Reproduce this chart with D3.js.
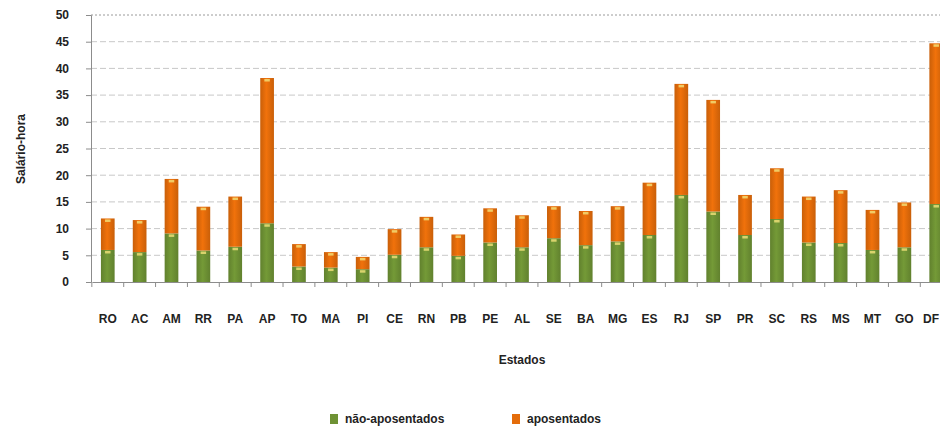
<!DOCTYPE html>
<html>
<head>
<meta charset="utf-8">
<script src="https://cdn.jsdelivr.net/npm/d3@7"></script>
<style>
  html, body { margin: 0; padding: 0; background: #ffffff; }
  svg { display: block; }
  text { font-family: "Liberation Sans", Arial, sans-serif; }
</style>
</head>
<body>
<svg id="chart" width="940" height="441"></svg>
<script>
// ---- data ----
const categories = ["RO","AC","AM","RR","PA","AP","TO","MA","PI","CE","RN","PB","PE","AL","SE","BA","MG","ES","RJ","SP","PR","SC","RS","MS","MT","GO","DF"];
const naoAposentados = [6.0,5.6,9.1,5.9,6.6,11.0,2.9,2.7,2.4,5.1,6.5,4.9,7.4,6.5,8.2,6.9,7.6,8.8,16.3,13.2,8.8,11.8,7.4,7.3,6.0,6.5,14.6];
const totais = [11.9,11.6,19.3,14.1,16.0,38.2,7.1,5.6,4.7,9.9,12.2,8.9,13.8,12.5,14.2,13.3,14.2,18.6,37.1,34.1,16.3,21.3,16.0,17.2,13.5,14.9,44.7];
const aposentados = totais.map((t, i) => +(t - naoAposentados[i]).toFixed(1));
const seriesNames = ["não-aposentados", "aposentados"];
const seriesColors = ["#6e9234", "#e46c0a"];
const yTicks = [0,5,10,15,20,25,30,35,40,45,50];
const yTitle = "Salário-hora";
const xTitle = "Estados";

// ---- layout ----
const W = 940;
const svg = d3.select("#chart");
const x = d3.scaleBand().domain(categories).range([92, 952]).paddingInner(0.57).paddingOuter(0.28);
const y = d3.scaleLinear().domain([0, 50]).range([282, 15]);

const rows = categories.map((c, i) => ({ cat: c, "não-aposentados": naoAposentados[i], "aposentados": aposentados[i] }));
const stack = d3.stack().keys(seriesNames)(rows);

// gradients for bars
const defs = svg.append("defs");
seriesColors.forEach((col, k) => {
  const g = defs.append("linearGradient").attr("id", "grad" + k).attr("x1", "0").attr("x2", "1").attr("y1", "0").attr("y2", "0");
  const c = d3.color(col);
  g.append("stop").attr("offset", "0%").attr("stop-color", c.darker(0.35));
  g.append("stop").attr("offset", "45%").attr("stop-color", c.brighter(0.15));
  g.append("stop").attr("offset", "100%").attr("stop-color", c.darker(0.35));
});

// gridlines
svg.append("g")
  .selectAll("line")
  .data(yTicks.filter(t => t > 0))
  .join("line")
  .attr("x1", 91).attr("x2", W)
  .attr("y1", d => y(d)).attr("y2", d => y(d))
  .attr("stroke", d => d === 50 ? "#9a9a9a" : "#c8c8c8")
  .attr("stroke-width", 1)
  .attr("stroke-dasharray", d => d === 50 ? "2,2" : "6,3");

// bars
const layer = svg.append("g").selectAll("g")
  .data(stack)
  .join("g")
  .attr("fill", (d, k) => `url(#grad${k})`);

layer.selectAll("rect.bar")
  .data(d => d)
  .join("rect")
  .attr("class", "bar")
  .attr("x", d => x(d.data.cat))
  .attr("width", x.bandwidth())
  .attr("y", d => y(d[1]))
  .attr("height", d => y(d[0]) - y(d[1]));

// small highlight at the top of each segment
layer.selectAll("rect.hl")
  .data(d => d)
  .join("rect")
  .attr("class", "hl")
  .attr("x", d => x(d.data.cat) + x.bandwidth() * 0.3)
  .attr("width", x.bandwidth() * 0.4)
  .attr("y", d => y(d[1]) + 1)
  .attr("height", 2.5)
  .attr("fill", "#f2e27a")
  .attr("opacity", 0.8);

// y axis
const yAxis = d3.axisLeft(y).tickValues(yTicks).tickSize(5).tickPadding(17).tickFormat(d3.format("d"));
const gy = svg.append("g").attr("transform", "translate(91,0)").call(yAxis);
gy.select(".domain").attr("stroke", "#8c8c8c");
gy.selectAll(".tick line").attr("stroke", "#8c8c8c");
gy.selectAll(".tick text").attr("font-size", 12).attr("font-weight", "bold").attr("fill", "#222");

// x axis
const xAxis = d3.axisBottom(x).tickSize(0).tickPadding(32);
const gx = svg.append("g").attr("transform", "translate(0,282)").call(xAxis);
gx.select(".domain").attr("stroke", "#8c8c8c");
gx.selectAll(".tick text").attr("font-size", 12).attr("font-weight", "bold").attr("fill", "#222");
// keep the last label inside the picture
gx.selectAll(".tick").each(function(d) {
  const cx = x(d) + x.bandwidth() / 2;
  if (cx + 10 > W) {
    d3.select(this).select("text").attr("text-anchor", "end").attr("x", W - 1 - cx);
  }
});
// category separator ticks
const step = x.step();
gx.append("g").selectAll("line")
  .data(categories)
  .join("line")
  .attr("x1", d => x(d) + x.bandwidth() / 2 - step / 2)
  .attr("x2", d => x(d) + x.bandwidth() / 2 - step / 2)
  .attr("y1", 0).attr("y2", 5)
  .attr("stroke", "#8c8c8c");

// axis titles
svg.append("text")
  .attr("transform", "translate(25,149) rotate(-90)")
  .attr("text-anchor", "middle")
  .attr("font-size", 12).attr("font-weight", "bold").attr("fill", "#222")
  .text(yTitle);
svg.append("text")
  .attr("x", 522).attr("y", 364)
  .attr("text-anchor", "middle")
  .attr("font-size", 12).attr("font-weight", "bold").attr("fill", "#222")
  .text(xTitle);

// legend
const legendX = [330, 512];
const lg = svg.append("g").selectAll("g")
  .data(seriesNames)
  .join("g")
  .attr("transform", (d, i) => `translate(${legendX[i]},414)`);
lg.append("rect").attr("width", 8).attr("height", 10).attr("fill", (d, i) => seriesColors[i]);
lg.append("text").attr("x", 15).attr("y", 9)
  .attr("font-size", 12).attr("font-weight", "bold").attr("fill", "#222")
  .text(d => d);
</script>
</body>
</html>
